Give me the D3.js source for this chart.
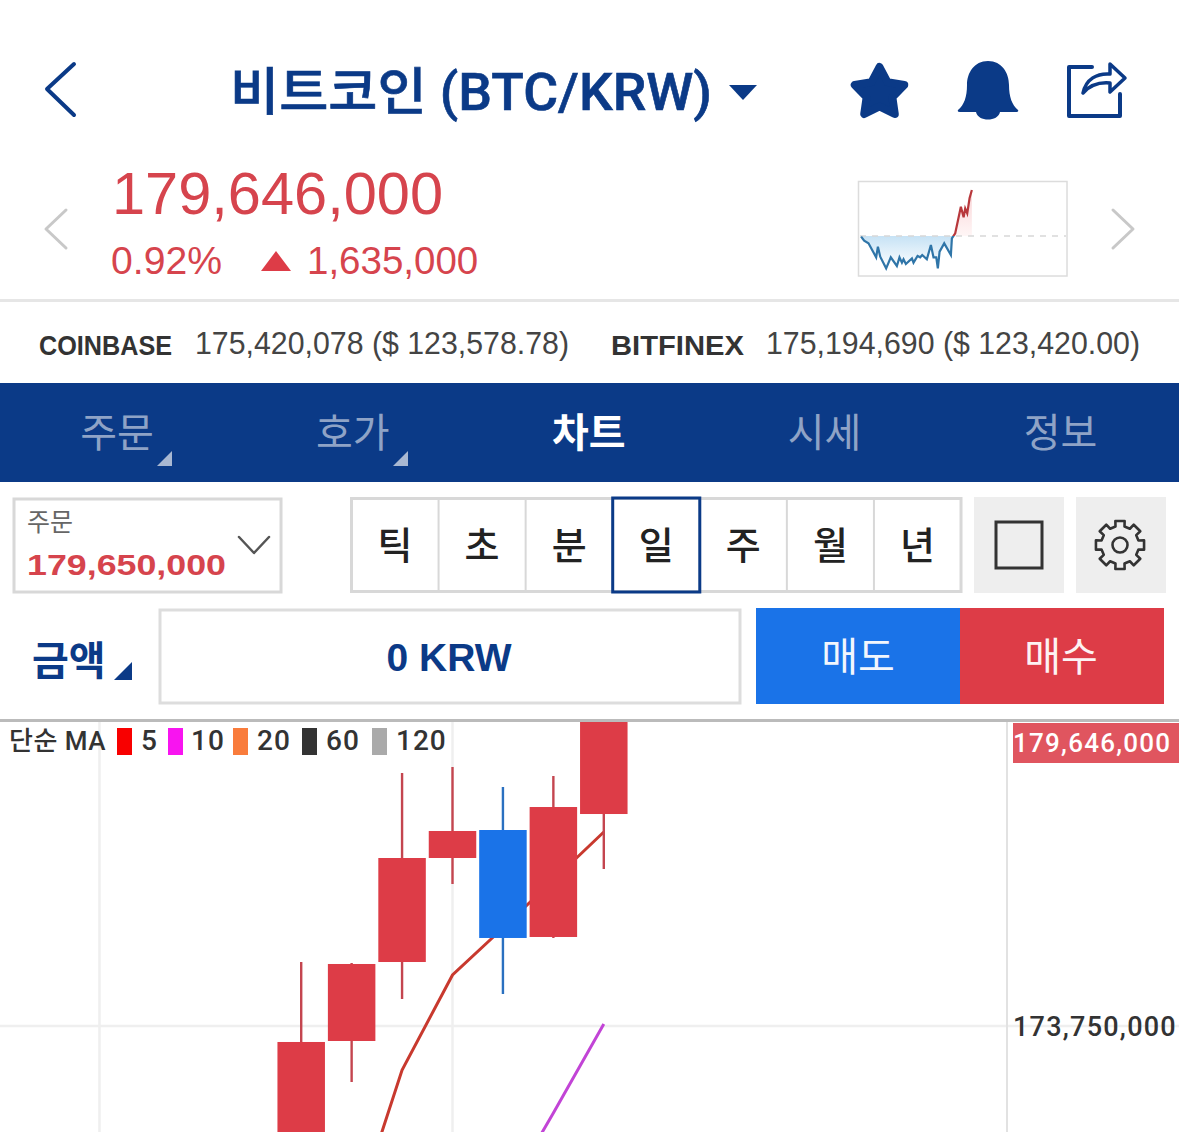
<!DOCTYPE html>
<html lang="ko">
<head>
    <meta charset="UTF-8">
    <title>비트코인 (BTC/KRW)</title>
    <script src="https://d3js.org/d3.v7.min.js"></script>
    <style>
        html, body { margin: 0; padding: 0; background: #fff; }
        svg { display: block; }
        text { font-family: "Liberation Sans", "Noto Sans CJK KR", sans-serif; }
        text.rb { font-family: Roboto, "Noto Sans CJK KR", sans-serif; }
    </style>
</head>
<body>
    <svg id="screen" width="1179" height="1132"></svg>
    <script>
        // daily candles, oldest first (first open/low and last high are off screen, estimated)
        var candleOpen  = [171000000, 173463000, 174975000, 176966000, 177502000, 175454000, 177808000];
        var candleClose = [173444000, 174937000, 176966000, 177483000, 175435000, 177942000, 179646000];
        var candleHigh  = [174975000, 174956000, 178593000, 178708000, 178325000, 178536000, 179800000];
        var candleLow   = [170500000, 172678000, 174267000, 176468000, 174363000, 175435000, 176755000];

        // moving averages, one value per candle from index 1 / 4
        var ma5Index  = [1, 2, 3, 4, 5, 6];
        var ma5Values = [169941000, 172908000, 174726000, 175626000, 176545000, 177464000];
        var ma10Index  = [4, 5, 6];
        var ma10Values = [170419000, 172085000, 173788000];

        var priceTicks = [173750000];
        var timeGridIndex = [-4, 3];
        var lastPrice = 179646000;

        var legendNames  = ["5", "10", "20", "60", "120"];
        var legendColors = ["#f80000", "#f814f0", "#f97c3c", "#333333", "#aaaaaa"];

        // intraday mini chart: minutes since open / price
        var sparkMinutes = [18, 39, 69, 122, 134, 150, 191, 223, 265, 283, 300, 311, 327, 369, 380, 408, 426, 440, 472, 500, 518, 537, 548, 560, 592, 638, 645, 668, 707, 726, 737, 751, 767, 783];
        var sparkPrices = [177987000, 177845000, 177750000, 177253000, 177632000, 177276000, 176862000, 177253000, 176945000, 177253000, 177063000, 177182000, 177016000, 177217000, 177063000, 177300000, 177253000, 177336000, 177182000, 177691000, 177253000, 177253000, 176862000, 177454000, 177750000, 177336000, 177928000, 178106000, 179054000, 178674000, 178994000, 178817000, 179350000, 179646000];
        var prevClose = 178011000;

        var tabNames = ["주문", "호가", "차트", "시세", "정보"];
        var periodNames = ["틱", "초", "분", "일", "주", "월", "년"];

        var navy = "#0b3a87", red = "#dd3c47", blue = "#1a73e8";
        var svg = d3.select("#screen");

        function label(parent, x, y, str, size, fill, opts) {
            opts = opts || {};
            var t = parent.append("text").attr("x", x).attr("y", y)
                .attr("font-size", size).attr("fill", fill)
                .attr("font-weight", opts.weight || 400)
                .attr("text-anchor", opts.anchor || "start")
                .text(str);
            if (opts.cls) t.attr("class", opts.cls);
            if (opts.spacing) t.attr("letter-spacing", opts.spacing);
            if (opts.fit) t.attr("textLength", opts.fit).attr("lengthAdjust", "spacingAndGlyphs");
            return t;
        }
        function stroke(d, color, w) {
            return svg.append("path").attr("d", d).attr("fill", "none")
                .attr("stroke", color).attr("stroke-width", w)
                .attr("stroke-linecap", "round").attr("stroke-linejoin", "round");
        }
        function box(x, y, w, h, fill, line, lw) {
            return svg.append("rect").attr("x", x).attr("y", y).attr("width", w).attr("height", h)
                .attr("fill", fill).attr("stroke", line || "none").attr("stroke-width", lw || 0);
        }

        // header
        stroke("M74,64L47,89L74,115", navy, 4);
        label(svg, 230, 110, "비트코인 (BTC/KRW)", 51, navy, { weight: 500, fit: 482, cls: "rb" })
            .attr("stroke", navy).attr("stroke-width", 0.6);
        svg.append("path").attr("d", "M729,85H757L743,100Z").attr("fill", navy);
        // star icon
        var starPts = d3.range(10).map(function (i) {
            var r = i % 2 ? 13.5 : 26;
            var a = i * Math.PI / 5;
            return [879.5 + r * Math.sin(a), 93 - r * Math.cos(a)];
        });
        svg.append("path").attr("d", d3.line().curve(d3.curveLinearClosed)(starPts))
            .attr("fill", navy).attr("stroke", navy).attr("stroke-width", 8).attr("stroke-linejoin", "round");
        svg.append("path")
            .attr("d", "M988,61C1002,61 1009,73 1009,85C1009,97 1012,105 1018,110Q1019,112 1016,112H1000C998,122 978,122 976,112H960Q957,112 958,110C964,105 967,97 967,85C967,73 974,61 988,61Z")
            .attr("fill", navy);
        stroke("M1092,67H1069V116H1120V94", navy, 4);
        svg.append("path")
            .attr("d", "M1083,93C1086,79 1097,73 1110,74V64L1125,78L1110,92V83C1099,82 1090,85 1083,93Z")
            .attr("fill", "#fff").attr("stroke", navy).attr("stroke-width", 3.5).attr("stroke-linejoin", "round");

        // price block
        label(svg, 112, 214, d3.format(",")(lastPrice), 60, "#d6444d", { fit: 331 });
        label(svg, 111, 274, "0.92%", 38.5, "#d6444d", { fit: 111 });
        svg.append("path").attr("d", "M261,271H291L276,251Z").attr("fill", red);
        label(svg, 307, 274, "1,635,000", 38.5, "#d6444d");
        stroke("M66,210L46,229L66,248", "#c8c8c8", 3);
        stroke("M1113,210L1133,229L1113,248", "#c8c8c8", 3);

        // mini chart
        box(858.5, 181.5, 208.5, 94.5, "#fff", "#dcdcdc", 1.5);
        var sx = d3.scaleLinear().domain([0, 1440]).range([858.5, 1067]);
        var sy = d3.scaleLinear().domain([prevClose, lastPrice]).range([236, 190]);
        var sparkData = d3.zip(sparkMinutes, sparkPrices);
        var defs = svg.append("defs");
        defs.append("clipPath").attr("id", "above").append("rect")
            .attr("x", 850).attr("y", 170).attr("width", 230).attr("height", sy(prevClose) - 170);
        defs.append("clipPath").attr("id", "below").append("rect")
            .attr("x", 850).attr("y", sy(prevClose)).attr("width", 230).attr("height", 60);
        var gb = defs.append("linearGradient").attr("id", "gBlue").attr("gradientUnits", "userSpaceOnUse")
            .attr("x1", 0).attr("x2", 0).attr("y1", 236).attr("y2", 268);
        gb.append("stop").attr("offset", 0).attr("stop-color", "#c6e2f5");
        gb.append("stop").attr("offset", 1).attr("stop-color", "#ffffff");
        var gr = defs.append("linearGradient").attr("id", "gRed").attr("gradientUnits", "userSpaceOnUse")
            .attr("x1", 0).attr("x2", 0).attr("y1", 190).attr("y2", 236);
        gr.append("stop").attr("offset", 0).attr("stop-color", "#f9d4d6");
        gr.append("stop").attr("offset", 1).attr("stop-color", "#fff6f6");
        var sparkArea = d3.area().x(d => sx(d[0])).y0(sy(prevClose)).y1(d => sy(d[1]));
        var sparkLine = d3.line().x(d => sx(d[0])).y(d => sy(d[1]));
        svg.append("path").attr("d", sparkArea(sparkData)).attr("fill", "url(#gBlue)").attr("clip-path", "url(#below)");
        svg.append("path").attr("d", sparkArea(sparkData)).attr("fill", "url(#gRed)").attr("clip-path", "url(#above)");
        svg.append("line").attr("x1", 860).attr("x2", 1066).attr("y1", sy(prevClose)).attr("y2", sy(prevClose))
            .attr("stroke", "#d8d8d8").attr("stroke-width", 1.5).attr("stroke-dasharray", "6 6");
        svg.append("path").attr("d", sparkLine(sparkData)).attr("fill", "none").attr("stroke", "#2f75a8").attr("stroke-width", 2.2).attr("clip-path", "url(#below)");
        svg.append("path").attr("d", sparkLine(sparkData)).attr("fill", "none").attr("stroke", "#b8383c").attr("stroke-width", 2.2).attr("clip-path", "url(#above)");

        // exchange row
        box(0, 299, 1179, 3, "#e6e6e6");
        label(svg, 39, 355, "COINBASE", 27, "#333", { weight: 700, fit: 133 });
        label(svg, 195, 354, "175,420,078 ($ 123,578.78)", 30.5, "#444", { fit: 374 });
        label(svg, 611, 355, "BITFINEX", 27, "#333", { weight: 700, fit: 133 });
        label(svg, 766, 354, "175,194,690 ($ 123,420.00)", 30.5, "#444", { fit: 374 });

        // tabs
        box(0, 383, 1179, 99, navy);
        var tabX = d3.scalePoint().domain(tabNames).range([117, 1060.5]);
        tabNames.forEach(function (name, i) {
            label(svg, tabX(name), 447, name, 40, i == 2 ? "#fff" : "#8fa3c6", { anchor: "middle", weight: i == 2 ? 700 : 400 });
        });
        svg.append("path").attr("d", "M172,451V466H157Z").attr("fill", "#a9b8d2");
        svg.append("path").attr("d", "M408,451V466H393Z").attr("fill", "#a9b8d2");

        // order price dropdown
        box(14, 499, 267, 93, "#fff", "#d8d8d8", 3);
        label(svg, 27, 531, "주문", 25, "#666");
        label(svg, 27, 575, "179,650,000", 29, "#d6444d", { weight: 700, fit: 199 });
        stroke("M239,537L254,553L269,537", "#555", 2.5);

        // period buttons
        var periodX = d3.scaleBand().domain(periodNames).range([351.5, 961]);
        box(351.5, 498.5, 609.5, 93, "#fff", "#d8d8d8", 3);
        periodNames.forEach(function (name, i) {
            if (i > 0) box(periodX(name) - 1, 498, 2, 94, "#d8d8d8");
            label(svg, periodX(name) + periodX.bandwidth() / 2, 559, name, 38, "#222", { anchor: "middle", weight: 500 });
        });
        box(periodX("일"), 498, periodX.bandwidth(), 94, "none", navy, 3);

        box(974, 497, 90, 96, "#eeeeee");
        box(996, 522, 46, 46, "none", "#333", 3);
        box(1076, 497, 90, 96, "#eeeeee");
        // cog icon
        var cog = [];
        d3.range(8).forEach(function (i) {
            var a = i * Math.PI / 4;
            [[-0.24, 19], [-0.19, 24.5], [0.19, 24.5], [0.24, 19]].forEach(function (p) {
                cog.push([1120 + p[1] * Math.sin(a + p[0]), 545 - p[1] * Math.cos(a + p[0])]);
            });
        });
        stroke(d3.line().curve(d3.curveLinearClosed)(cog), "#333", 2.6);
        svg.append("circle").attr("cx", 1120).attr("cy", 545).attr("r", 7.5).attr("fill", "none").attr("stroke", "#333").attr("stroke-width", 2.6);

        // amount row
        label(svg, 32, 675, "금액", 40, navy, { weight: 700 });
        svg.append("path").attr("d", "M132,662V680H114Z").attr("fill", navy);
        box(160, 610, 580, 93, "#fff", "#dddddd", 3);
        label(svg, 449, 671, "0 KRW", 39, navy, { anchor: "middle", weight: 700, fit: 125 });
        box(756, 608, 204, 96, blue);
        box(960, 608, 204, 96, red);
        label(svg, 858, 671, "매도", 40, "#f2f6fd", { anchor: "middle" });
        label(svg, 1061, 671, "매수", 40, "#fdf2f3", { anchor: "middle" });

        // candle chart
        var chartTop = 722, chartBottom = 1132, axisX = 1007;
        var x = d3.scaleLinear().domain([0, 6]).range([301.2, 603.8]);
        var y = d3.scaleLinear().domain([173750000, 179646000]).range([1026, 718]);
        defs.append("clipPath").attr("id", "plot").append("rect")
            .attr("x", 0).attr("y", chartTop).attr("width", axisX).attr("height", chartBottom - chartTop);

        svg.append("g").selectAll("line").data(timeGridIndex).enter().append("line")
            .attr("x1", d => x(d)).attr("x2", d => x(d)).attr("y1", chartTop).attr("y2", chartBottom)
            .attr("stroke", "#efefef").attr("stroke-width", 2.5);
        svg.append("g").selectAll("line").data(priceTicks).enter().append("line")
            .attr("x1", 0).attr("x2", 1179).attr("y1", d => y(d)).attr("y2", d => y(d))
            .attr("stroke", "#efefef").attr("stroke-width", 2.5);

        var yAxis = d3.axisRight(y).tickValues(priceTicks).tickFormat(d3.format(",")).tickSize(0).tickPadding(6);
        var axisG = svg.append("g").attr("transform", "translate(" + axisX + ",0)").call(yAxis);
        axisG.select(".domain").remove();
        axisG.selectAll("text").attr("font-size", 27).attr("fill", "#333").attr("letter-spacing", 1.25)
            .attr("font-weight", 500).attr("dy", "0.36em").style("font-family", "Roboto, sans-serif");
        svg.append("line").attr("x1", axisX).attr("x2", axisX).attr("y1", chartTop).attr("y2", chartBottom)
            .attr("stroke", "#e2e2e2").attr("stroke-width", 2);

        var plot = svg.append("g").attr("clip-path", "url(#plot)");
        var maLine = d3.line().x(d => x(d[0])).y(d => y(d[1]));
        plot.append("path").attr("d", maLine(d3.zip(ma5Index, ma5Values))).attr("fill", "none")
            .attr("stroke", "#c8392e").attr("stroke-width", 3);
        plot.append("path").attr("d", maLine(d3.zip(ma10Index, ma10Values))).attr("fill", "none")
            .attr("stroke", "#c244d6").attr("stroke-width", 3);

        var candleW = 47.5;
        candleOpen.forEach(function (open, i) {
            var close = candleClose[i];
            var up = close >= open;
            plot.append("line").attr("x1", x(i)).attr("x2", x(i))
                .attr("y1", y(candleHigh[i])).attr("y2", y(candleLow[i]))
                .attr("stroke", up ? "#c4454f" : "#2a70c0").attr("stroke-width", 2.4);
            plot.append("rect").attr("x", x(i) - candleW / 2).attr("width", candleW)
                .attr("y", y(Math.max(open, close)))
                .attr("height", Math.abs(y(open) - y(close)))
                .attr("fill", up ? red : blue);
        });

        // price chips and legend
        box(1013, 723, 166, 40, "#e0555f");
        label(svg, 1013, 752, d3.format(",")(lastPrice), 26, "#fff", { cls: "rb", spacing: 1.25, weight: 500 });
        box(0, 719, 1179, 3, "#bbbbbb");

        label(svg, 9, 750, "단순 MA", 26, "#333", { cls: "rb", weight: 500, spacing: 0.5 });
        var swatchX = [117, 168, 233, 302, 372];
        var nameX = [141, 191, 257, 326, 396];
        legendNames.forEach(function (name, i) {
            box(swatchX[i], 728, 15, 27, legendColors[i]);
            label(svg, nameX[i], 750, name, 28, "#333", { cls: "rb", spacing: 1, weight: 500 });
        });
    </script>
</body>
</html>
